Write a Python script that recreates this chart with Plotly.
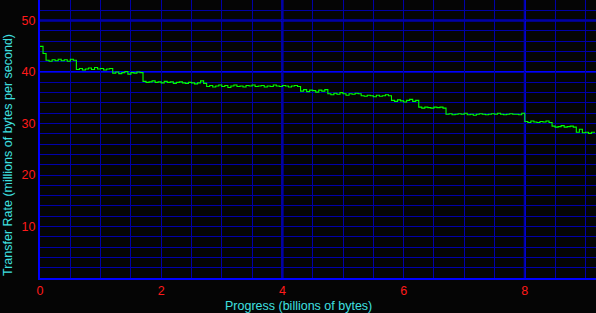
import plotly.graph_objects as go

# Sample spacing along the progress axis (billions of bytes)
SAMPLE_STEP = 0.05
N_SAMPLES = 184
progress = [round(i * SAMPLE_STEP, 2) for i in range(N_SAMPLES)]

# Transfer rate readings (millions of bytes per second)
rate = [
    45.0, 43.6,
    42.3, 42.1, 42.4, 42.2, 42.5, 42.2, 42.4, 42.1, 42.5, 42.3,
    40.5, 40.7, 40.4, 40.6, 40.8, 40.5, 40.9, 40.6, 40.7, 40.4, 40.6, 40.7,
    39.8, 40.0, 39.7, 39.9, 40.1, 39.6, 39.9, 39.8, 40.0, 39.9,
    38.2, 38.0, 38.1, 38.3, 38.0, 38.1, 37.9, 38.2, 38.0, 38.1, 37.8, 38.0,
    38.1, 37.9, 37.8, 38.0, 37.9, 37.7, 37.9, 38.3, 37.8,
    37.2, 37.4, 37.1, 37.3, 37.5, 37.2, 37.4, 37.0, 37.3, 37.5, 37.2, 37.3,
    37.1, 37.4, 37.3, 37.5, 37.2, 37.3, 37.4, 37.1, 37.3, 37.2, 37.5, 37.3,
    37.2, 37.4, 37.3, 37.1, 37.3, 37.4, 37.2,
    36.3, 36.6, 36.2, 36.5, 36.4, 36.1, 36.5, 36.3, 36.6,
    35.8, 35.6, 35.9, 35.7, 36.0, 35.8, 35.5, 35.8, 35.7, 35.9, 35.8,
    35.4, 35.3, 35.5, 35.4, 35.2, 35.5, 35.3, 35.4, 35.6, 35.4,
    34.5, 34.3, 34.6, 34.4, 34.2, 34.5, 34.7, 34.3, 34.5,
    33.2, 33.0, 33.2, 33.1, 33.0, 33.2, 33.1, 33.2, 33.0,
    31.8, 31.9, 31.7, 31.8, 31.9, 31.8, 32.0, 31.7, 31.8, 31.6, 31.8, 31.9,
    31.8, 31.7, 31.8, 31.9, 31.8, 32.0, 31.8, 31.7, 31.8, 31.9, 31.8, 31.8,
    31.7, 32.0,
    30.4, 30.2, 30.5, 30.3, 30.2, 30.4, 30.3, 30.5, 30.2,
    29.5, 29.3, 29.4, 29.6, 29.3, 29.4, 29.5, 29.3,
    28.3, 28.9, 28.2, 28.3, 28.1, 28.3, 28.2,
]

# Grid positions and tick labels
x_grid = [0, 0.5, 1, 1.5, 2, 2.5, 3, 3.5, 4, 4.5, 5, 5.5, 6, 6.5, 7, 7.5, 8, 8.5, 9]
x_labels = {0: "0", 2: "2", 4: "4", 6: "6", 8: "8"}
y_grid = [0, 2, 4, 6, 8, 10, 12, 14, 16, 18, 20, 22, 24, 26, 28, 30, 32, 34, 36, 38,
          40, 42, 44, 46, 48, 50, 52]
y_labels = {10: "10", 20: "20", 30: "30", 40: "40", 50: "50"}
bright_x = [4, 8]
bright_y = [40, 50]

X_RANGE = [0, 9.175]
Y_RANGE = [0, 54]

BG = "#050505"
DIM = "#0000a8"
BRIGHT = "#0000ff"
RED = "#ff1a1a"
CYAN = "#3fe0e0"
FONT = "Liberation Sans"

fig = go.Figure()
fig.add_trace(go.Scatter(
    x=progress, y=rate, mode="lines", line=dict(color="#00ff00", width=1.1, shape="hv"),
    showlegend=False, hoverinfo="skip",
))

shapes = []
for v in bright_x:
    shapes.append(dict(type="line", xref="x", yref="paper", x0=v, x1=v, y0=0, y1=1,
                       line=dict(color=BRIGHT, width=2), layer="below"))
for v in bright_y:
    shapes.append(dict(type="line", xref="paper", yref="y", x0=0, x1=1, y0=v, y1=v,
                       line=dict(color=BRIGHT, width=2), layer="below"))

axis_common = dict(
    showgrid=True, gridcolor=DIM, gridwidth=1,
    showline=True, linecolor=BRIGHT, linewidth=2,
    zeroline=False, ticks="", ticklen=0, mirror=False,
    minor=dict(showgrid=False, ticks=""),
    tickfont=dict(family=FONT, size=12.5, color=RED),
)

fig.update_layout(
    template="none",
    width=596, height=313,
    margin=dict(l=40, r=0, t=0, b=35),
    paper_bgcolor=BG, plot_bgcolor=BG,
    font=dict(family=FONT, size=12, color=RED),
    shapes=shapes,
    xaxis=dict(
        range=X_RANGE, tickmode="array", tickvals=x_grid,
        ticktext=[x_labels.get(v, "") for v in x_grid], **axis_common,
    ),
    yaxis=dict(
        range=Y_RANGE, tickmode="array", tickvals=y_grid,
        ticktext=[y_labels.get(v, "") for v in y_grid], **axis_common,
    ),
    annotations=[
        dict(text="Progress (billions of bytes)", xref="paper", yref="paper",
             x=(298 - 40) / 556, y=-28 / 278, xanchor="center", yanchor="middle",
             showarrow=False, font=dict(family=FONT, size=12.5, color=CYAN)),
        dict(text="Transfer Rate (millions of bytes per second)", xref="paper", yref="paper",
             x=-32 / 556, y=(278 - 155) / 278, xanchor="center", yanchor="middle",
             textangle=-90, showarrow=False, font=dict(family=FONT, size=12.5, color=CYAN)),
    ],
)

fig.write_html("out.html")
